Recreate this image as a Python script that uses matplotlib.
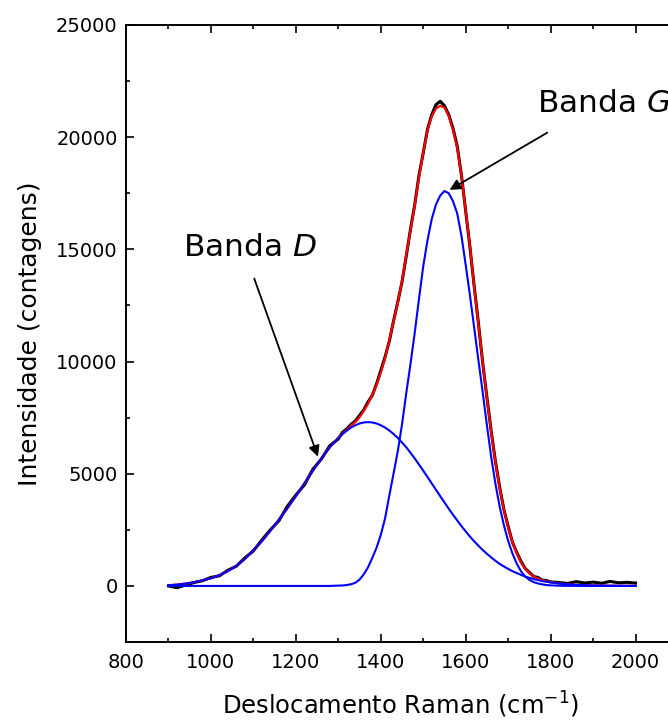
import matplotlib
matplotlib.use('Agg')
import matplotlib.pyplot as plt
from matplotlib.ticker import MultipleLocator

# deslocamento Raman (cm-1): passo 20 nas caudas, passo 10 perto dos picos
raman_shift = [900, 920, 940, 960, 980, 1000, 1020, 1040, 1060, 1080,
               1100, 1120, 1140, 1160, 1180, 1200, 1220, 1240, 1260, 1280,
               1300, 1310, 1320, 1330, 1340, 1350, 1360, 1370, 1380, 1390,
               1400, 1410, 1420, 1430, 1440, 1450, 1460, 1470, 1480, 1490,
               1500, 1510, 1520, 1530, 1540, 1550, 1560, 1570, 1580, 1590,
               1600, 1610, 1620, 1630, 1640, 1650, 1660, 1670, 1680, 1690,
               1700, 1710, 1720, 1730, 1740, 1750, 1760, 1770, 1780, 1790,
               1800, 1820, 1840, 1860, 1880, 1900, 1920, 1940, 1960, 1980,
               2000]

# espectro medido (preto)
measured = [0, -80, 40, 150, 230, 380, 450, 700, 880, 1250,
            1560, 2050, 2500, 2900, 3550, 4050, 4500, 5200, 5650, 6250,
            6550, 6850, 7000, 7200, 7350, 7600, 7850, 8200, 8500, 9000,
            9600, 10200, 10900, 11800, 12650, 13550, 14700, 15900, 17000, 18300,
            19300, 20350, 21000, 21450, 21600, 21400, 21000, 20400, 19600, 18300,
            16700, 15100, 13350, 11700, 9950, 8400, 6900, 5550, 4400, 3400,
            2650, 1950, 1500, 1100, 780, 600, 420, 380, 260, 240,
            180, 150, 110, 190, 130, 170, 120, 200, 140, 160,
            130]

# ajuste total (vermelho)
fit_total = [30, 60, 105, 165, 245, 340, 480, 660, 900, 1200,
             1600, 1990, 2460, 2950, 3460, 4000, 4570, 5130, 5680, 6180,
             6610, 6790, 6960, 7140, 7300, 7520, 7800, 8130, 8530, 8940,
             9500, 10150, 10950, 11770, 12600, 13590, 14770, 15830, 16970, 18210,
             19300, 20300, 20920, 21280, 21400, 21320, 20940, 20320, 19520, 18270,
             16730, 15150, 13300, 11650, 9950, 8350, 6850, 5500, 4350, 3400,
             2600, 1950, 1450, 1050, 760, 560, 420, 330, 260, 210,
             170, 110, 73, 49, 32, 21, 13, 8, 5, 3,
             2]

# banda D (azul)
band_d = [30, 60, 105, 165, 245, 340, 480, 660, 900, 1200,
          1600, 1990, 2460, 2950, 3460, 4000, 4570, 5130, 5680, 6180,
          6590, 6770, 6920, 7060, 7160, 7240, 7285, 7300, 7285, 7240,
          7160, 7060, 6930, 6770, 6600, 6390, 6180, 5930, 5680, 5410,
          5135, 4855, 4570, 4285, 4000, 3720, 3440, 3175, 2920, 2665,
          2430, 2200, 1990, 1790, 1600, 1430, 1270, 1120, 980, 866,
          760, 658, 575, 492, 420, 361, 305, 261, 215, 186,
          156, 108, 73, 49, 32, 21, 13, 8, 5, 3,
          2]

# banda G (azul)
band_g = [0, 0, 0, 0, 0, 0, 0, 0, 0, 0,
          0, 0, 0, 0, 0, 0, 0, 0, 0, 0,
          15, 20, 40, 75, 140, 280, 520, 830, 1250, 1700,
          2270, 3000, 4020, 5000, 6000, 7200, 8590, 9900, 11290, 12800,
          14250, 15400, 16350, 17000, 17400, 17600, 17500, 17150, 16600, 15600,
          14300, 12950, 11500, 10050, 8630, 7150, 5750, 4550, 3530, 2700,
          2000, 1450, 1000, 660, 420, 270, 170, 110, 70, 40,
          25, 10, 4, 2, 0, 0, 0, 0, 0, 0,
          0]

x_ticks = [800, 1000, 1200, 1400, 1600, 1800, 2000]
y_ticks = [0, 5000, 10000, 15000, 20000, 25000]

plt.rcParams['font.family'] = ['DejaVu Sans']

fig = plt.figure(figsize=(6.68, 7.2), dpi=100)
ax = fig.add_axes([0.1886, 0.1083, 0.890, 0.857])

ax.plot(raman_shift, measured, color='black', linewidth=2.2)
ax.plot(raman_shift, fit_total, color='red', linewidth=1.6)
ax.plot(raman_shift, band_d, color='blue', linewidth=1.5)
ax.plot(raman_shift, band_g, color='blue', linewidth=1.5)

ax.set_xlim(800, 2200)
ax.set_ylim(-2500, 25000)
ax.set_xticks(x_ticks)
ax.set_yticks(y_ticks)
ax.xaxis.set_minor_locator(MultipleLocator(100))
ax.yaxis.set_minor_locator(MultipleLocator(2500))

ax.tick_params(which='both', direction='in', top=True, right=True,
               labelsize=14, width=1.2)
ax.tick_params(which='major', length=6)
ax.tick_params(which='minor', length=3)
ax.tick_params(axis='x', pad=8)
ax.tick_params(axis='y', pad=6)
for s in ax.spines.values():
    s.set_linewidth(1.4)

ax.set_xlabel(r'Deslocamento Raman (cm$^{-1}$)', fontsize=17.5)
ax.xaxis.set_label_coords(0.4626, -0.078)
ax.set_ylabel('Intensidade (contagens)', fontsize=18, labelpad=10)

# setas e rotulos das bandas
arrow = dict(arrowstyle='-|>', color='black', lw=1.3, mutation_scale=16,
             shrinkA=0, shrinkB=0)
ax.annotate('', xy=(1252, 5760), xytext=(1102, 13700), arrowprops=arrow)
ax.annotate('', xy=(1562, 17650), xytext=(1792, 20200), arrowprops=arrow)
ax.text(935, 15100, r'Banda $\it{D}$', fontsize=22.5, va='center', ha='left')
ax.text(1768, 21520, r'Banda $\it{G}$', fontsize=22.5, va='center', ha='left')

fig.savefig('out.png', dpi=100)
